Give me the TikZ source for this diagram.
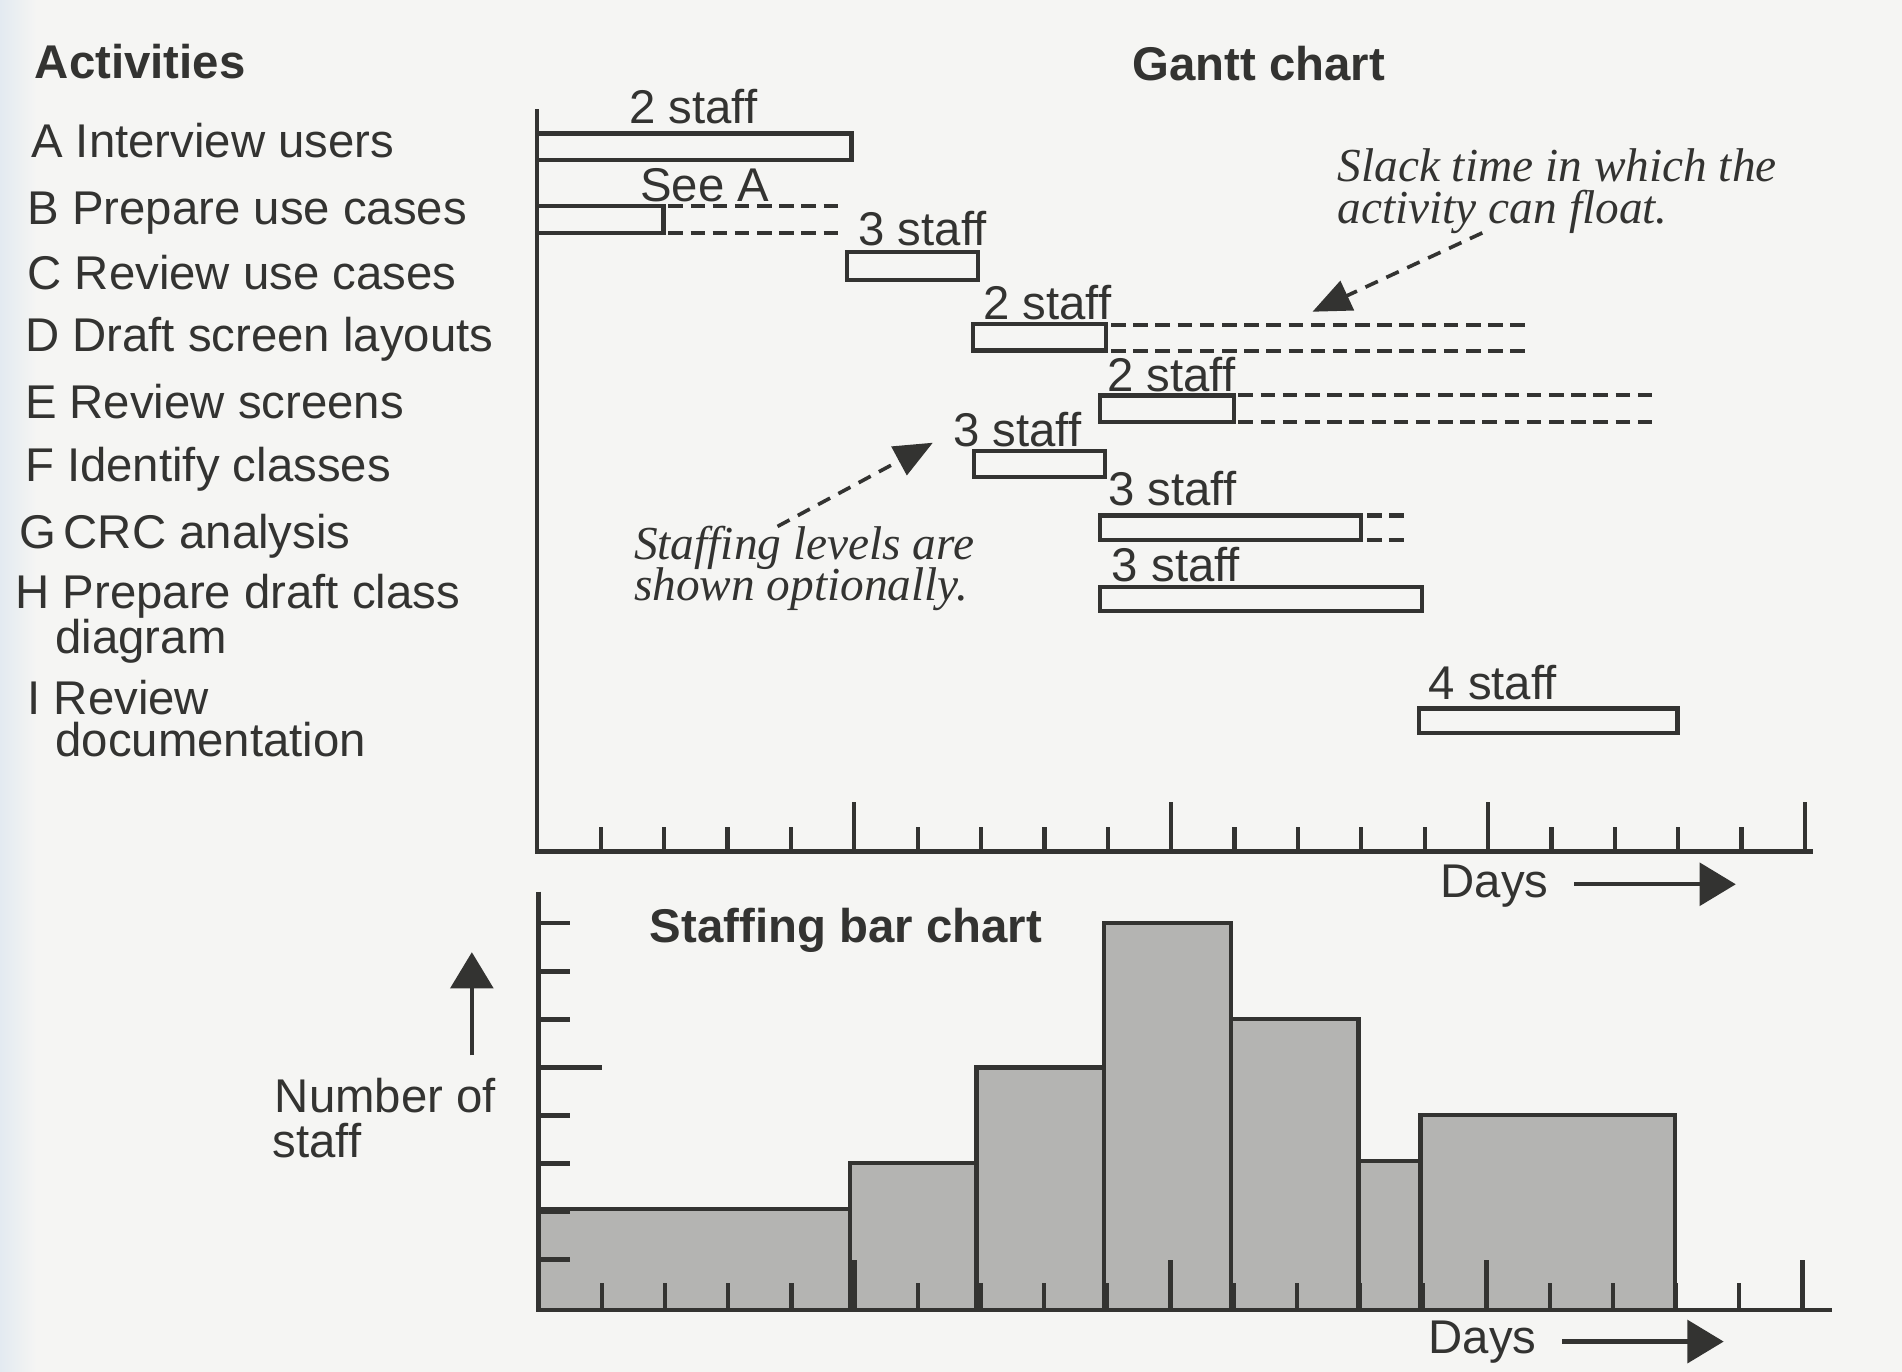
\documentclass[tikz,border=0pt]{standalone}
\usepackage{fontspec}
\setmainfont{Liberation Serif}
\setsansfont{Liberation Sans}
\usetikzlibrary{arrows.meta}
\definecolor{ink}{HTML}{333331}
\definecolor{paper}{HTML}{F5F5F3}
\definecolor{paperblue}{HTML}{E3EAF1}
\definecolor{barfill}{HTML}{B4B4B2}

\begin{document}
\begin{tikzpicture}[x=0.01cm, y=-0.01cm,
  lbl/.style={font=\sffamily\fontsize{11.1}{13}\selectfont, text=ink, inner sep=0pt, anchor=base west},
  heading/.style={lbl, font=\sffamily\bfseries\fontsize{11.1}{13}\selectfont},
  note/.style={font=\rmfamily\itshape\fontsize{11.1}{13}\selectfont, text=ink, inner sep=0pt, anchor=base west},
  taskbox/.style={draw=ink, line width=1pt},
  slackline/.style={draw=ink, line width=0.95pt, dash pattern=on 3.4pt off 1.8pt},
  axisline/.style={draw=ink, line width=1pt},
  pointer/.style={draw=ink, line width=0.85pt, dash pattern=on 3.2pt off 2.2pt,
    -{Triangle[length=9pt,width=7.5pt]}},
  bigarrow/.style={draw=ink, line width=1pt, -{Triangle[length=8.5pt,width=10pt]}},
  staffbar/.style={draw=ink, fill=barfill, line width=1pt},
]
% paper
\fill[paper] (0,0) rectangle (1568,1131);
\shade[left color=paperblue, right color=paper] (0,0) rectangle (30,1131);
\useasboundingbox (0,0) rectangle (1568,1131);

% ---------------- activity list ----------------
\node[heading] (acts) at (28,65) {Activities};
\node[lbl] (actA) at (25,130) {A Interview users};
\node[lbl] (actB) at (22,185) {B Prepare use cases};
\node[lbl] (actC) at (22,239) {C Review use cases};
\node[lbl] (actD) at (20,290) {D Draft screen layouts};
\node[lbl] (actE) at (20,345) {E Review screens};
\node[lbl] (actF) at (20,397) {F Identify classes};
\node[lbl] (actG) at (15,452) {G\,CRC analysis};
\node[lbl] (actH) at (12,502) {H Prepare draft class};
\node[lbl] (actH2) at (45,539) {diagram};
\node[lbl] (actI) at (22,589) {I Review};
\node[lbl] (actI2) at (45,624) {documentation};

% ---------------- Gantt chart ----------------
\node[heading] (gantt) at (933,66) {Gantt chart};

\draw[axisline] (443,90) -- (443,702) -- (1495,702);
\foreach \n in {1,...,20}{
  \pgfmathsetmacro\tx{443+52.25*\n}
  \pgfmathsetmacro\ty{ifthenelse(mod(\n,5)==0,661,682)}
  \draw[axisline] (\tx,702) -- (\tx,\ty);
}

% activity bars
\draw[taskbox] (443,110) rectangle (702,132);
\draw[taskbox] (443,170) rectangle (547,192);
\draw[taskbox] (698,208) rectangle (806,231);
\draw[taskbox] (802,267) rectangle (912,289);
\draw[taskbox] (907,326) rectangle (1017,348);
\draw[taskbox] (803,372) rectangle (911,393);
\draw[taskbox] (907,425) rectangle (1122,445);
\draw[taskbox] (907,484) rectangle (1172,504);
\draw[taskbox] (1170,584) rectangle (1383,604);

% float (slack) periods
\draw[slackline] (551,170) -- (692,170) (551,192) -- (692,192);
\draw[slackline] (916,268) -- (1262,268) (916,289) -- (1262,289);
\draw[slackline] (1021,326) -- (1368,326) (1021,348) -- (1368,348);
\draw[slackline] (1127,425) -- (1162,425) (1127,445) -- (1162,445);

% staffing levels
\node[lbl] (stA) at (518,102) {2 staff};
\node[lbl] (seeA) at (527,166) {See A};
\node[lbl] (stC) at (707,202) {3 staff};
\node[lbl] (stD) at (810,263) {2 staff};
\node[lbl] (stE) at (912,323) {2 staff};
\node[lbl] (stF) at (785,368) {3 staff};
\node[lbl] (stG) at (913,417) {3 staff};
\node[lbl] (stH) at (916,479) {3 staff};
\node[lbl] (stI) at (1177,577) {4 staff};

% annotations
\node[note] (slack1) at (1102,150) {Slack time in which the};
\node[note] (slack2) at (1102,184) {activity can float.};
\coordinate (slackTail) at (1222,192);
\coordinate (slackTip) at (1082,257);
\draw[pointer] (slackTail) -- (slackTip);

\node[note] (opt1) at (522,461) {Staffing levels are};
\node[note] (opt2) at (522,495) {shown optionally.};
\coordinate (optTail) at (641,434);
\coordinate (optTip) at (769,365);
\draw[pointer] (optTail) -- (optTip);

\node[lbl] (days1) at (1187,740) {Days};
\coordinate (days1a) at (1298,729);
\coordinate (days1b) at (1431,729);
\draw[bigarrow] (days1a) -- (days1b);

% ---------------- staffing bar chart ----------------
\node[heading] (barhead) at (535,777) {Staffing bar chart};

\draw[staffbar] (444,1080) rectangle (701,997);
\draw[staffbar] (701,1080) rectangle (805,959);
\draw[staffbar] (805,1080) rectangle (910,880);
\draw[staffbar] (910,1080) rectangle (1015,761);
\draw[staffbar] (1015,1080) rectangle (1120,840);
\draw[staffbar] (1120,1080) rectangle (1171,957);
\draw[staffbar] (1171,1080) rectangle (1381,919);

\draw[axisline] (444,735) -- (444,1080) -- (1510,1080);
\foreach \n in {1,...,20}{
  \pgfmathsetmacro\tx{444+52.1*\n}
  \pgfmathsetmacro\ty{ifthenelse(mod(\n,5)==0,1039,1058)}
  \draw[axisline] (\tx,1080) -- (\tx,\ty);
}
\foreach \k in {1,...,8}{
  \pgfmathsetmacro\ty{1078-39.6*\k}
  \pgfmathsetmacro\tx{ifthenelse(\k==5,496,470)}
  \draw[axisline] (444,\ty) -- (\tx,\ty);
}

\node[lbl] (num1) at (226,917) {Number of};
\node[lbl] (num2) at (224,954) {staff};
\coordinate (numTail) at (389,870);
\coordinate (numTip) at (389,785);
\draw[bigarrow] (numTail) -- (numTip);

\node[lbl] (days2) at (1177,1116) {Days};
\coordinate (days2a) at (1288,1106);
\coordinate (days2b) at (1421,1106);
\draw[bigarrow] (days2a) -- (days2b);
\end{tikzpicture}
\end{document}
